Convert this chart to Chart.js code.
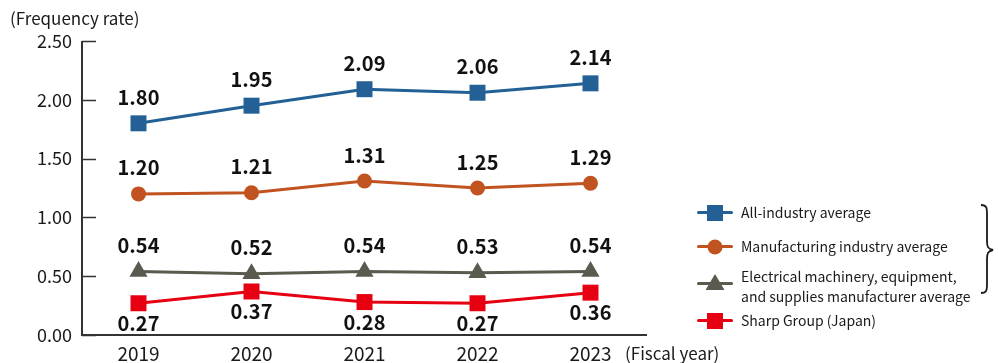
<!DOCTYPE html>
<html>
<head>
<meta charset="utf-8">
<script src="https://cdn.jsdelivr.net/npm/chart.js@4.4.1/dist/chart.umd.min.js"></script>
<style>
  html, body { margin: 0; padding: 0; background: #fff; }
  body { width: 998px; height: 363px; position: relative; overflow: hidden;
         font-family: "Noto Sans CJK JP", "Noto Sans", sans-serif; color: #1a1a1a; }
  #wrap { position: absolute; left: 0; top: 0; width: 998px; height: 363px; }
  .cap { position: absolute; font-size: 17px; white-space: nowrap; line-height: 1; }
  .leg { position: absolute; left: 697px; font-size: 14px; line-height: 20px; }
  .leg .item { position: absolute; left: 0; white-space: nowrap; }
  .leg .key { position: absolute; left: 0; width: 36px; height: 3px; border-radius: 2px; }
  .leg .mk { position: absolute; left: 18px; top: 1px; transform: translate(-50%, -50%); }
  .leg .txt { position: absolute; left: 44px; }
</style>
</head>
<body>
<div id="wrap"><canvas id="chartFrecuencia" width="998" height="363"></canvas></div>

<div class="cap" style="left:10px; top:9px;">(Frequency rate)</div>
<div class="cap" style="left:625px; top:344px;">(Fiscal year)</div>

<div class="leg" id="leyenda"></div>

<svg style="position:absolute; left:976px; top:203px;" width="22" height="92" viewBox="0 0 22 92">
  <path d="M5 2 C11 2 11 5 11 12 L11 38 C11 44 12 46 17 47 C12 48 11 50 11 56 L11 80 C11 87 11 90 5 90"
        fill="none" stroke="#1a1a1a" stroke-width="1.8"/>
</svg>

<script>
// ── DATOS ───────────────────────────────────────────────────────────────
const anios = ['2019', '2020', '2021', '2022', '2023'];
const todasIndustrias = [1.80, 1.95, 2.09, 2.06, 2.14];
const manufactura     = [1.20, 1.21, 1.31, 1.25, 1.29];
const electricos      = [0.54, 0.52, 0.54, 0.53, 0.54];
const sharpJapon      = [0.27, 0.37, 0.28, 0.27, 0.36];
const ticksEjeY       = [0, 0.5, 1.0, 1.5, 2.0, 2.5];

const series = [
    { label: 'All-industry average', data: todasIndustrias, color: '#236096', punto: 'rect', radio: 11.3, pos: 'arriba' },
    { label: 'Manufacturing industry average', data: manufactura, color: '#c0531f', punto: 'circle', radio: 7.5, pos: 'arriba' },
    { label: 'Electrical machinery, equipment,\nand supplies manufacturer average', data: electricos, color: '#5b5a4f', punto: 'triangle', radio: 10.5, pos: 'arriba' },
    { label: 'Sharp Group (Japan)', data: sharpJapon, color: '#e60012', punto: 'rect', radio: 11.3, pos: 'abajo' },
];

// ── ETIQUETAS DE VALOR ──────────────────────────────────────────────────
const etiquetasValor = {
    id: 'etiquetasValor',
    afterDatasetsDraw(chart) {
        const ctx = chart.ctx;
        ctx.save();
        ctx.font = 'bold 20px "Noto Sans CJK JP", "Noto Sans", sans-serif';
        ctx.fillStyle = '#111';
        ctx.textAlign = 'center';
        ctx.textBaseline = 'middle';
        chart.data.datasets.forEach((ds, i) => {
            const meta = chart.getDatasetMeta(i);
            meta.data.forEach((p, j) => {
                const dy = series[i].pos === 'abajo' ? 20 : -26;
                ctx.fillText(ds.data[j].toFixed(2), p.x, p.y + dy);
            });
        });
        ctx.restore();
    }
};

// ── EJES (línea vertical, base y marcas hacia adentro) ──────────────────
const ejes = {
    id: 'ejes',
    beforeDatasetsDraw(chart) {
        const { ctx, chartArea: a, scales: { y } } = chart;
        ctx.save();
        ctx.strokeStyle = '#333';
        ctx.lineWidth = 2;
        ctx.beginPath();
        ctx.moveTo(a.left, y.getPixelForValue(2.5));
        ctx.lineTo(a.left, a.bottom);
        ctx.lineTo(a.right, a.bottom);
        ctx.stroke();
        ctx.lineWidth = 1.5;
        ticksEjeY.forEach(v => {
            const py = Math.round(y.getPixelForValue(v)) + 0.5;
            ctx.beginPath();
            ctx.moveTo(a.left, py);
            ctx.lineTo(a.left + 14, py);
            ctx.stroke();
        });
        ctx.restore();
    }
};

const ctx = document.getElementById('chartFrecuencia').getContext('2d');
new Chart(ctx, {
    type: 'line',
    data: {
        labels: anios,
        datasets: series.map(s => ({
            label: s.label,
            data: s.data,
            borderColor: s.color,
            backgroundColor: s.color,
            borderWidth: 3,
            pointStyle: s.punto,
            pointRadius: s.radio,
            pointHoverRadius: s.radio,
            pointBorderWidth: 0,
            tension: 0,
            clip: false
        }))
    },
    options: {
        responsive: false,
        animation: false,
        events: [],
        layout: { padding: { left: 0, right: 351, top: 41, bottom: 0 } },
        plugins: { legend: { display: false }, tooltip: { enabled: false } },
        scales: {
            x: {
                offset: true,
                grid: { display: false, drawTicks: false },
                border: { display: false },
                ticks: { color: '#1a1a1a', padding: 7, font: { size: 19, family: '"Noto Sans CJK JP", "Noto Sans", sans-serif' } },
                afterFit: s => { s.height = 28; }
            },
            y: {
                min: 0, max: 2.5,
                afterBuildTicks: s => { s.ticks = ticksEjeY.map(v => ({ value: v })); },
                grid: { display: false, drawTicks: false },
                border: { display: false },
                ticks: {
                    color: '#1a1a1a', padding: 10,
                    font: { size: 18, family: '"Noto Sans CJK JP", "Noto Sans", sans-serif' },
                    callback: v => Number(v).toFixed(2)
                },
                afterFit: s => { s.width = 82; }
            }
        }
    },
    plugins: [ejes, etiquetasValor]
});

// ── LEYENDA ─────────────────────────────────────────────────────────────
const leyenda = document.getElementById('leyenda');
const filasY = [212, 246, 283, 320];
series.forEach((s, i) => {
    const item = document.createElement('div');
    item.className = 'item';
    item.style.top = filasY[i] + 'px';

    const key = document.createElement('div');
    key.className = 'key';
    key.style.background = s.color;
    key.style.top = '-1.5px';
    item.appendChild(key);

    const mk = document.createElement('div');
    mk.className = 'mk';
    if (s.punto === 'rect') {
        mk.style.cssText += `width:16px;height:16px;background:${s.color};`;
    } else if (s.punto === 'circle') {
        mk.style.cssText += `width:15px;height:15px;border-radius:50%;background:${s.color};`;
    } else {
        mk.style.cssText += `width:19px;height:16px;background:${s.color};clip-path:polygon(50% 0,100% 100%,0 100%);top:-1px;`;
    }
    item.appendChild(mk);

    const txt = document.createElement('div');
    txt.className = 'txt';
    const lineas = s.label.split('\n');
    txt.style.top = (-10 - (lineas.length - 1) * 10 + (lineas.length > 1 ? 3 : 0)) + 'px';
    txt.innerHTML = lineas.join('<br>');
    item.appendChild(txt);

    leyenda.appendChild(item);
});
</script>
</body>
</html>
